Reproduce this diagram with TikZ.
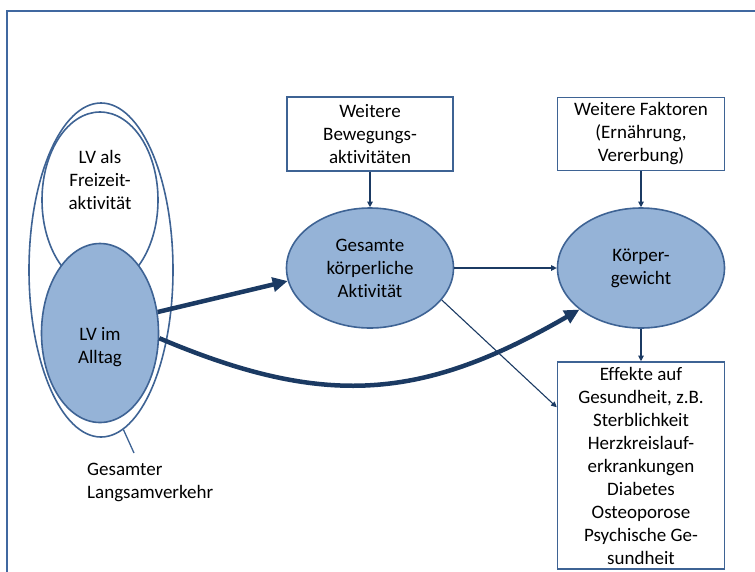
\documentclass[tikz,border=0pt]{standalone}
\usepackage{fontspec}
\setmainfont[Ligatures=NoCommon]{Carlito}
\usetikzlibrary{shapes.geometric,arrows.meta}
\definecolor{frameblue}{HTML}{4068A0}
\definecolor{edgeblue}{HTML}{3E6394}
\definecolor{fillblue}{HTML}{95B3D7}
\definecolor{navy}{HTML}{1B3A63}
\begin{document}
\begin{tikzpicture}[x=1pt,y=1pt,
  every node/.style={font=\fontsize{19}{23}\selectfont, text=black},
  ell/.style={ellipse, draw=edgeblue, line width=1.6pt, inner sep=0pt},
  box/.style={rectangle, draw=edgeblue, line width=1.6pt, inner sep=0pt, align=center, fill=white},
  thinarrow/.style={draw=navy, line width=1.1pt, -{Triangle[length=5.5pt,width=5.5pt]}},
  thickarrow/.style={draw=navy, line width=4.5pt, -{Triangle[length=15pt,width=14pt]}},
]
\useasboundingbox (0,0) rectangle (755,-571);
\clip (0,0) rectangle (755,-571);
\draw[frameblue, line width=2.2pt] (7,-11) rectangle (790,-600);

% left group
\node[ell, minimum width=144pt, minimum height=334pt] (lvall) at (101,-270) {};
\node[ell, fill=white, minimum width=116pt, minimum height=176pt] (freiz) at (100,-200) {};
\node[align=center] (freiztxt) at (100,-180) {LV als\\Freizeit-\\aktivität};
\node[ell, fill=fillblue, minimum width=117pt, minimum height=179pt] (alltag) at (100,-333) {};
\node[align=center] (alltagtxt) at (100,-347) {LV im\\Alltag};

\coordinate (lvtip) at (134,-453);
\draw[edgeblue, line width=1.3pt] (lvall.-82) -- (lvtip);
\node[align=left, anchor=west, inner sep=0pt] (lvlabel) at (87,-482) {Gesamter\\Langsamverkehr};

% middle and right
\node[box, minimum width=166pt, minimum height=74pt] (bew) at (370,-134) {Weitere\\Bewegungs-\\aktivitäten};
\node[ell, fill=fillblue, minimum width=167pt, minimum height=120pt, align=center] (gesamt) at (370,-268) {Gesamte\\körperliche\\Aktivität};
\node[box, minimum width=167pt, minimum height=73pt] (fakt) at (641,-134) {Weitere Faktoren\\(Ernährung,\\Vererbung)};
\node[ell, fill=fillblue, minimum width=167pt, minimum height=120pt, align=center] (koerper) at (641,-268) {Körper-\\gewicht};
\node[box, minimum width=167pt, minimum height=207pt] (eff) at (641,-465.5) {Effekte auf\\Gesundheit, z.B.\\Sterblichkeit\\Herzkreislauf-\\erkrankungen\\Diabetes\\Osteoporose\\Psychische Ge-\\sundheit};

% connectors
\draw[thinarrow] (bew.south) -- (gesamt.north);
\draw[thinarrow] (fakt.south) -- (koerper.north);
\draw[thinarrow] (gesamt.east) -- (koerper.west);
\draw[thinarrow] (koerper.south) -- (eff.north);
\draw[thinarrow] (gesamt.-24) -- ([yshift=-46pt]eff.north west);
\draw[thickarrow] (alltag.20) -- (gesamt.189);
\draw[thickarrow] (alltag.-5) to[out=-23,in=210,looseness=1.1] (koerper.214);
\end{tikzpicture}
\end{document}
